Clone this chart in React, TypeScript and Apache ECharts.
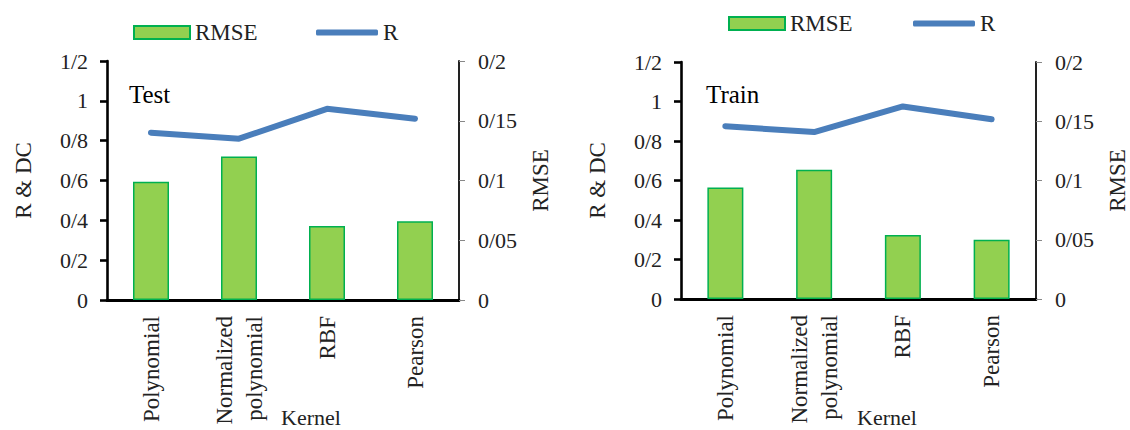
import React, { useEffect, useRef } from 'react';
import * as echarts from 'echarts';

const categories = ['Polynomial', 'Normalized\npolynomial', 'RBF', 'Pearson'];
const testRMSE = [0.099, 0.12, 0.062, 0.066];
const testR = [0.84, 0.81, 0.96, 0.91];
const trainRMSE = [0.094, 0.109, 0.054, 0.05];
const trainR = [0.875, 0.845, 0.975, 0.91];
const panelTitles = ['Test', 'Train'];
const leftAxisName = 'R & DC';
const rightAxisName = 'RMSE';
const xAxisName = 'Kernel';
const seriesNames = ['RMSE', 'R'];

const FONT = 'Liberation Serif';
const fmt = (v: number) => String(Math.round(v * 1000) / 1000).replace('.', '/');

const grids = [
  { left: 107, top: 61, width: 352, height: 239 },
  { left: 681, top: 62, width: 355, height: 237 },
];

export default function App() {
  const ref = useRef<HTMLDivElement>(null);
  useEffect(() => {
    document.body.style.margin = '0';
    const chart = echarts.init(ref.current!, null, { renderer: 'svg' });
    const panels = [
      { rmse: testRMSE, r: testR },
      { rmse: trainRMSE, r: trainR },
    ];
    const xAxis: any[] = [];
    const yAxis: any[] = [];
    const series: any[] = [];
    panels.forEach((p, gi) => {
      xAxis.push({
        gridIndex: gi,
        type: 'category',
        data: categories,
        position: 'bottom',
        axisLine: { lineStyle: { color: '#000', width: 2.6 } },
        axisTick: { length: 6, lineStyle: { color: '#000', width: 2.6 } },
        axisLabel: {
          rotate: 90,
          margin: 16,
          color: '#222',
          fontFamily: FONT,
          fontSize: 23,
          lineHeight: 30,
          interval: 0,
        },
        splitLine: { show: false },
      });
      xAxis.push({
        gridIndex: gi,
        type: 'category',
        data: categories,
        position: 'top',
        axisLine: { lineStyle: { color: '#000', width: 2.8 } },
        axisTick: { show: false },
        axisLabel: { show: false },
        splitLine: { show: false },
      });
      yAxis.push({
        gridIndex: gi,
        type: 'value',
        position: 'left',
        min: 0,
        max: 1.2,
        interval: 0.2,
        name: leftAxisName,
        nameLocation: 'middle',
        nameGap: 72,
        nameTextStyle: { fontFamily: FONT, fontSize: 23, color: '#222' },
        axisLine: { show: true, lineStyle: { color: '#000', width: 2.6 } },
        axisTick: { show: true, length: 7, lineStyle: { color: '#000', width: 2.6 } },
        axisLabel: { margin: 19, formatter: fmt, color: '#222', fontFamily: FONT, fontSize: 22 },
        splitLine: { show: false },
      });
      yAxis.push({
        gridIndex: gi,
        type: 'value',
        position: 'right',
        min: 0,
        max: 0.2,
        interval: 0.05,
        name: rightAxisName,
        nameLocation: 'middle',
        nameGap: 70,
        nameTextStyle: { fontFamily: FONT, fontSize: 23, color: '#222' },
        axisLine: { show: true, lineStyle: { color: '#222', width: 2 } },
        axisTick: { show: true, length: 6, lineStyle: { color: '#888', width: 1 } },
        axisLabel: { margin: 19, formatter: fmt, color: '#222', fontFamily: FONT, fontSize: 22 },
        splitLine: { show: false },
      });
      series.push({
        name: seriesNames[0],
        type: 'bar',
        xAxisIndex: gi * 2,
        yAxisIndex: gi * 2 + 1,
        data: p.rmse,
        barWidth: 36,
        itemStyle: { color: '#92D050', borderColor: '#00B050', borderWidth: 1.5 },
        z: 2,
      });
      series.push({
        name: seriesNames[1],
        type: 'line',
        xAxisIndex: gi * 2,
        yAxisIndex: gi * 2,
        data: p.r,
        symbol: 'none',
        lineStyle: { color: '#4A7EBB', width: 6, cap: 'round', join: 'round' },
        itemStyle: { color: '#4A7EBB' },
        z: 3,
      });
    });

    const legendText = { fontFamily: FONT, fontSize: 23, color: '#222' };
    const legend = [
      { left: 133, top: 21, data: ['RMSE'], icon: 'rect', itemWidth: 56, itemHeight: 13, textStyle: legendText },
      { left: 316, top: 21, data: [{ name: 'R', icon: 'roundRect' }], itemWidth: 62, itemHeight: 6, textStyle: legendText },
      { left: 728, top: 12, data: ['RMSE'], icon: 'rect', itemWidth: 56, itemHeight: 13, textStyle: legendText },
      { left: 913, top: 12, data: [{ name: 'R', icon: 'roundRect' }], itemWidth: 62, itemHeight: 6, textStyle: legendText },
    ].map((l) => ({ ...l, selectedMode: false, padding: 0, itemGap: 0 }));

    const graphic = [
      {
        type: 'text',
        left: 129,
        top: 82,
        style: { text: panelTitles[0], fontFamily: FONT, fontSize: 25, fill: '#000' },
      },
      {
        type: 'text',
        left: 706,
        top: 82,
        style: { text: panelTitles[1], fontFamily: FONT, fontSize: 25, fill: '#000' },
      },
      {
        type: 'text',
        x: 311,
        y: 406,
        style: { text: xAxisName, fontFamily: FONT, fontSize: 22, fill: '#222', align: 'center', verticalAlign: 'top' },
      },
      {
        type: 'text',
        x: 887,
        y: 406,
        style: { text: xAxisName, fontFamily: FONT, fontSize: 22, fill: '#222', align: 'center', verticalAlign: 'top' },
      },
    ];

    chart.setOption({
      animation: false,
      backgroundColor: '#fff',
      grid: grids,
      legend,
      xAxis,
      yAxis,
      series,
      graphic,
    });
    return () => chart.dispose();
  }, []);
  return <div ref={ref} style={{ width: 1130, height: 430 }} />;
}
